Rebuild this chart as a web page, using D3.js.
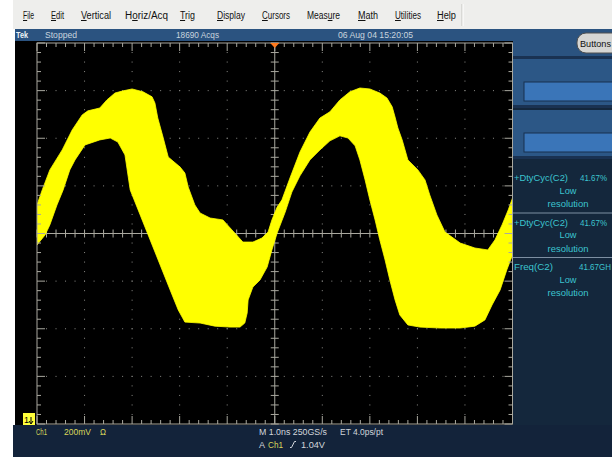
<!DOCTYPE html>
<html>
<head>
<meta charset="utf-8">
<script src="https://cdn.jsdelivr.net/npm/d3@7"></script>
<style>
  html, body { margin: 0; padding: 0; background: #ffffff; }
  svg { display: block; }
  text { font-family: 'Liberation Sans', Arial, sans-serif; }
</style>
</head>
<body>
<svg id="scope" width="612" height="458"></svg>
<script>
// ---- Ch1 acquisition: envelope of the persisted trace (time in ns, level in V) ----
const upperTime = [0.00,0.11,0.27,0.53,0.74,0.95,1.07,1.32,1.47,1.64,1.81,2.00,2.23,2.42,2.48,2.54,2.65,2.76,3.01,3.11,3.18,3.32,3.43,3.64,3.91,4.10,4.33,4.54,4.73,4.86,4.94,5.05,5.15,5.32,5.53,5.74,5.95,6.16,6.37,6.58,6.79,7.00,7.21,7.36,7.47,7.53,7.59,7.68,7.80,8.01,8.16,8.26,8.41,8.58,8.90,9.21,9.48,9.63,9.78,9.91,10.00];
const upperVolts = [1.160,1.223,1.307,1.391,1.475,1.538,1.555,1.567,1.601,1.630,1.639,1.647,1.635,1.614,1.588,1.525,1.445,1.361,1.319,1.294,1.235,1.160,1.126,1.105,1.097,1.055,1.004,1.004,1.021,1.046,1.097,1.151,1.181,1.273,1.382,1.466,1.525,1.551,1.601,1.635,1.651,1.647,1.630,1.609,1.572,1.529,1.483,1.433,1.349,1.307,1.265,1.202,1.118,1.046,1.000,0.979,0.971,1.013,1.076,1.139,1.189];
const lowerTime = [0.00,0.17,0.27,0.42,0.55,0.69,0.80,1.01,1.32,1.54,1.70,1.85,1.96,2.17,2.38,2.59,2.80,2.97,3.11,3.43,3.74,4.06,4.27,4.37,4.42,4.44,4.54,4.69,4.84,4.94,5.05,5.22,5.36,5.53,5.74,5.95,6.16,6.37,6.54,6.69,6.79,6.90,7.00,7.11,7.21,7.32,7.42,7.53,7.63,7.80,8.05,8.48,8.90,9.21,9.42,9.57,9.74,9.88,10.00];
const lowerVolts = [0.992,1.034,1.076,1.160,1.223,1.307,1.349,1.412,1.433,1.441,1.424,1.370,1.223,1.118,1.013,0.908,0.803,0.719,0.668,0.664,0.651,0.647,0.647,0.664,0.706,0.761,0.815,0.845,0.899,0.971,1.042,1.130,1.214,1.282,1.349,1.391,1.429,1.450,1.441,1.408,1.349,1.265,1.181,1.097,1.013,0.929,0.845,0.761,0.698,0.656,0.647,0.643,0.643,0.651,0.677,0.740,0.803,0.887,0.950];

// ---- Display settings ----
const timeDomain = [0, 10];          // 1.0 ns/div, 10 divisions
const voltDomain = [0.24, 1.84];     // 200 mV/div, 8 divisions
const timeDivs = d3.range(0, 11).map(d => d * 1.0);
const voltDivs = d3.range(0, 9).map(d => 0.24 + d * 0.2);

const menuItems = ["File", "Edit", "Vertical", "Horiz/Acq", "Trig", "Display", "Cursors", "Measure", "Math", "Utilities", "Help"];
const menuHotkey = [0, 0, 0, 1, 0, 0, 0, 4, 0, 0, 0];

const statusLabels = ["Tek", "Stopped", "18690 Acqs", "06 Aug 04 15:20:05"];

const measureNames = ["+DtyCyc(C2)", "+DtyCyc(C2)", "Freq(C2)"];
const measureValues = ["41.67%", "41.67%", "41.67GH"];
const measureNotes = ["Low", "resolution"];

const svg = d3.select("#scope");

// text helper: x position, baseline, fitted width
function label(g, s, px, py, w, size, fill, anchor) {
  const t = g.append("text").attr("x", px).attr("y", py).attr("font-size", size).attr("fill", fill).text(s);
  if (w) t.attr("textLength", w).attr("lengthAdjust", "spacingAndGlyphs");
  if (anchor) t.attr("text-anchor", anchor);
  return t;
}

// ---- Window chrome ----
svg.append("rect").attr("x", 13).attr("y", 0).attr("width", 599).attr("height", 29).attr("fill", "#eeeeec");
svg.append("line").attr("x1", 462).attr("x2", 462).attr("y1", 4).attr("y2", 26).attr("stroke", "#c4c4c0");
svg.append("line").attr("x1", 463).attr("x2", 463).attr("y1", 4).attr("y2", 26).attr("stroke", "#ffffff");

const menuLayout = [[23, 11], [51, 13], [81, 30], [125, 43], [180, 15], [217, 28], [262, 28], [307, 33], [358, 20], [395, 26], [437, 19]];
const menu = svg.append("g");
menuItems.forEach((s, i) => {
  const t = label(menu, s, menuLayout[i][0], 19, menuLayout[i][1], 10, "#111111");
  const k = menuHotkey[i];
  const node = t.node();
  const a = node.getStartPositionOfChar(k).x, b = node.getEndPositionOfChar(k).x;
  menu.append("line").attr("x1", a).attr("x2", b).attr("y1", 20.5).attr("y2", 20.5).attr("stroke", "#111111").attr("stroke-width", 1);
});

// status bar and right-hand control panel
svg.append("rect").attr("x", 15).attr("y", 29).attr("width", 597).attr("height", 12).attr("fill", "#2b5380");
svg.append("rect").attr("x", 513).attr("y", 29).attr("width", 99).attr("height", 396).attr("fill", "#14273c");
svg.append("rect").attr("x", 513).attr("y", 29).attr("width", 99).attr("height", 27).attr("fill", "#2b5380");
svg.append("rect").attr("x", 513).attr("y", 56).attr("width", 99).attr("height", 3).attr("fill", "#1a3252");
[59, 110].forEach(y0 => {
  svg.append("rect").attr("x", 513).attr("y", y0).attr("width", 99).attr("height", 46).attr("fill", "#2c5786");
  svg.append("rect").attr("x", 513).attr("y", y0 + 46).attr("width", 99).attr("height", 3).attr("fill", "#1a3252");
  svg.append("rect").attr("x", 524).attr("y", y0 + 23).attr("width", 90).attr("height", 19)
    .attr("fill", "#3a75b8").attr("stroke", "#17304e").attr("stroke-width", 1);
});

const statusLayout = [[16, 12], [45, 32], [176, 43], [338, 75]];
const status = svg.append("g");
statusLabels.forEach((s, i) => {
  const t = label(status, s, statusLayout[i][0], 38, statusLayout[i][1], 9, i === 0 ? "#eef2f6" : "#c9d3de");
  if (i === 0) t.attr("font-weight", "bold");
});

// "Buttons" pill
svg.append("rect").attr("x", 577).attr("y", 33).attr("width", 44).attr("height", 20).attr("rx", 9)
  .attr("fill", "#d6d6d4").attr("stroke", "#505050");
label(svg, "Buttons", 580, 47, 31, 9, "#101010");

// measurement readouts
const meas = svg.append("g");
const mColor = "#3cc4cf";
measureNames.forEach((name, i) => {
  const y0 = 181 + i * 44.5;
  label(meas, name, 514, y0, i < 2 ? 54 : 39, 9.5, mColor);
  label(meas, measureValues[i], i < 2 ? 580 : 579, y0, i < 2 ? 27 : 32, i < 2 ? 9 : 8.5, mColor);
  label(meas, measureNotes[0], 568, y0 + 12.5, 17, 9.5, mColor, "middle");
  label(meas, measureNotes[1], 568, y0 + 26, 41, 9.5, mColor, "middle");
  if (i < 2) {
    meas.append("line").attr("x1", 513).attr("x2", 612).attr("y1", y0 + 32).attr("y2", y0 + 32)
      .attr("stroke", "#7d8fa2").attr("stroke-width", 1.2);
  }
});

// bottom readout strip
svg.append("rect").attr("x", 13).attr("y", 425).attr("width", 599).attr("height", 32).attr("fill", "#13233a");

// ---- Graticule ----
svg.append("rect").attr("x", 15).attr("y", 41).attr("width", 498).attr("height", 384).attr("fill", "#000000");

const x = d3.scaleLinear().domain(timeDomain).range([37, 512.5]);
const y = d3.scaleLinear().domain(voltDomain).range([424, 43]);
const tMid = (timeDomain[0] + timeDomain[1]) / 2;
const vMid = (voltDomain[0] + voltDomain[1]) / 2;
const minorT = d3.range(0, 51).map(i => timeDomain[0] + i * 0.2);
const minorV = d3.range(0, 41).map(i => voltDomain[0] + i * 0.04);

const grat = svg.append("g");
const dotColor = "#8a8a86";
const lineColor = "#a9a89f";

// dotted division lines
timeDivs.slice(1, -1).filter(t => Math.abs(t - tMid) > 1e-6).forEach(t => {
  grat.selectAll(null).data(minorV.slice(1, -1)).join("rect")
    .attr("x", x(t) - 0.5).attr("y", d => y(d) - 0.5).attr("width", 1).attr("height", 1).attr("fill", dotColor);
});
voltDivs.slice(1, -1).filter(v => Math.abs(v - vMid) > 1e-6).forEach(v => {
  grat.selectAll(null).data(minorT.slice(1, -1)).join("rect")
    .attr("x", d => x(d) - 0.5).attr("y", y(v) - 0.5).attr("width", 1).attr("height", 1).attr("fill", dotColor);
});

// centre cross with minor ticks
grat.append("line").attr("x1", x(tMid)).attr("x2", x(tMid)).attr("y1", y(voltDomain[1])).attr("y2", y(voltDomain[0])).attr("stroke", lineColor);
grat.append("line").attr("x1", x(timeDomain[0])).attr("x2", x(timeDomain[1])).attr("y1", y(vMid)).attr("y2", y(vMid)).attr("stroke", lineColor);
grat.selectAll(null).data(minorV).join("line")
  .attr("x1", x(tMid) - 4).attr("x2", x(tMid) + 4).attr("y1", d => y(d)).attr("y2", d => y(d)).attr("stroke", lineColor);
grat.selectAll(null).data(minorT).join("line")
  .attr("x1", d => x(d)).attr("x2", d => x(d)).attr("y1", y(vMid) - 4).attr("y2", y(vMid) + 4).attr("stroke", lineColor);

// ---- Ch1 trace ----
svg.append("clipPath").attr("id", "screen").append("rect")
  .attr("x", x(timeDomain[0])).attr("y", y(voltDomain[1])).attr("width", x(timeDomain[1]) - x(timeDomain[0])).attr("height", y(voltDomain[0]) - y(voltDomain[1]));

const upperPts = upperTime.map((t, i) => [t, upperVolts[i]]);
const lowerPts = lowerTime.map((t, i) => [t, lowerVolts[i]]).reverse();
const envelope = d3.line().x(d => x(d[0])).y(d => y(d[1])).curve(d3.curveLinearClosed);
svg.append("path").attr("clip-path", "url(#screen)")
  .attr("d", envelope(upperPts.concat(lowerPts)))
  .attr("fill", "#ffff00").attr("stroke", "#ffff00").attr("stroke-width", 0.8);

// ---- Frame with edge ticks ----
const frame = svg.append("g").attr("stroke", lineColor);
frame.append("rect").attr("x", x(timeDomain[0])).attr("y", y(voltDomain[1]))
  .attr("width", x(timeDomain[1]) - x(timeDomain[0])).attr("height", y(voltDomain[0]) - y(voltDomain[1]))
  .attr("fill", "none");
const isMajorT = t => Math.abs(t - Math.round(t)) < 1e-6;
const isMajorV = v => Math.abs((v - voltDomain[0]) / 0.2 - Math.round((v - voltDomain[0]) / 0.2)) < 1e-6;
frame.selectAll(null).data(minorT).join("line")
  .attr("x1", d => x(d)).attr("x2", d => x(d)).attr("y1", y(voltDomain[1])).attr("y2", d => y(voltDomain[1]) + (isMajorT(d) ? 8 : 4));
frame.selectAll(null).data(minorT).join("line")
  .attr("x1", d => x(d)).attr("x2", d => x(d)).attr("y1", y(voltDomain[0])).attr("y2", d => y(voltDomain[0]) - (isMajorT(d) ? 8 : 4));
frame.selectAll(null).data(minorV).join("line")
  .attr("y1", d => y(d)).attr("y2", d => y(d)).attr("x1", x(timeDomain[0])).attr("x2", d => x(timeDomain[0]) + (isMajorV(d) ? 8 : 4));
frame.selectAll(null).data(minorV).join("line")
  .attr("y1", d => y(d)).attr("y2", d => y(d)).attr("x1", x(timeDomain[1])).attr("x2", d => x(timeDomain[1]) - (isMajorV(d) ? 8 : 4));

// trigger position marker
const tx = x(tMid), ty = y(voltDomain[1]);
svg.append("path").attr("d", `M${tx - 4.5},${ty} L${tx + 4.5},${ty} L${tx},${ty + 5} Z`).attr("fill", "#ff7a1e");

// Ch1 ground reference marker
svg.append("rect").attr("x", 23).attr("y", 413).attr("width", 12).attr("height", 12).attr("fill", "#ffff3a");
svg.append("text").attr("x", 24).attr("y", 423).attr("font-size", 9).attr("fill", "#000").text("1");
svg.append("path").attr("d", "M31,417 L31,423 M29,421 L31,424 L33,421").attr("stroke", "#000").attr("fill", "none").attr("stroke-width", 1);

// ---- Bottom readouts ----
const foot = svg.append("g");
const chColor = "#d9d65a", txtColor = "#d2d6dc";
label(foot, "Ch1", 36, 434.5, 11, 8.5, chColor);
label(foot, "200mV", 64, 434.5, 27, 8.5, chColor);
label(foot, "Ω", 100, 434.5, 6, 8.5, chColor);
label(foot, "M 1.0ns 250GS/s", 259, 434.5, 68, 8.5, txtColor);
label(foot, "ET 4.0ps/pt", 340, 434.5, 43, 8.5, txtColor);
label(foot, "A", 259, 447.5, 6, 8.5, txtColor);
label(foot, "Ch1", 268, 447.5, 15, 8.5, chColor);
// rising-edge slope symbol
foot.append("path").attr("d", "M290,447.5 L291.5,447.5 L294.5,441.5 L296,441.5").attr("stroke", txtColor).attr("fill", "none").attr("stroke-width", 1);
label(foot, "1.04V", 301, 447.5, 24, 8.5, txtColor);
</script>
</body>
</html>
